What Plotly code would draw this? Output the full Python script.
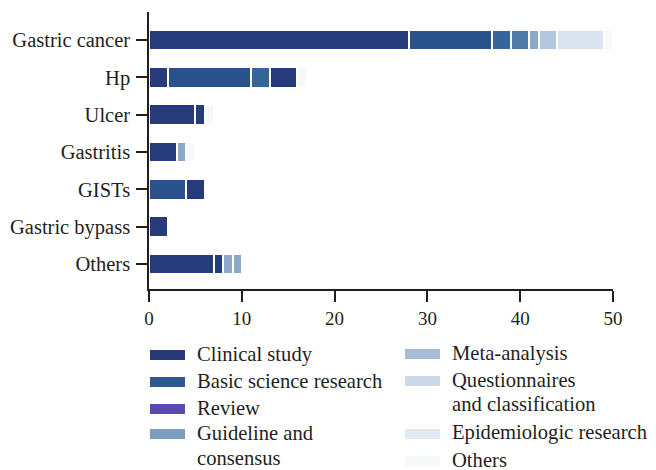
import plotly.graph_objects as go

# ---- data ----
categories = ["Gastric cancer", "Hp", "Ulcer", "Gastritis", "GISTs", "Gastric bypass", "Others"]

# stacked segments of each bar, left to right (number of articles)
seg_gastric_cancer = [28, 9, 2, 2, 1, 2, 5, 1]
seg_hp = [2, 9, 2, 3, 1]
seg_ulcer = [5, 1, 1]
seg_gastritis = [3, 1, 1]
seg_gists = [4, 2]
seg_gastric_bypass = [2]
seg_others = [7, 1, 1, 1]

legend_labels = ["Clinical study", "Basic science research", "Review", "Guideline and<br>consensus",
                 "Meta-analysis", "Questionnaires<br>and classification", "Epidemiologic research", "Others"]

x_ticks = [0, 10, 20, 30, 40, 50]

# ---- styles ----
NAVY = "#263b7a"
BASIC = "#2a528a"
C3 = "#346699"
C4 = "#4e7aa8"
C5 = "#8ba8cb"
C6 = "#b4c5de"
C7 = "#dce3f0"
C8 = "#f6f9f9"

col_gastric_cancer = [NAVY, BASIC, C3, C4, C5, C6, C7, C8]
col_hp = [NAVY, BASIC, C3, NAVY, C8]
col_ulcer = [NAVY, NAVY, C8]
col_gastritis = [NAVY, C5, C8]
col_gists = [BASIC, NAVY]
col_gastric_bypass = [NAVY]
col_others = [NAVY, NAVY, C5, C5]

legend_colors = ["#263a7a", "#2e5a90", "#5b4aad", "#7d9dc0", "#a7bad6", "#cdd9e9", "#e2e9f3", "#f6f9f9"]

segs = [seg_gastric_cancer, seg_hp, seg_ulcer, seg_gastritis, seg_gists, seg_gastric_bypass, seg_others]
cols = [col_gastric_cancer, col_hp, col_ulcer, col_gastritis, col_gists, col_gastric_bypass, col_others]

FONT = "Liberation Serif"
TXT = "#231f20"

fig = go.Figure()
nlev = max(len(s) for s in segs)
for lev in range(nlev):
    xs, cs = [], []
    for s, c in zip(segs, cols):
        if lev < len(s):
            xs.append(s[lev]); cs.append(c[lev])
        else:
            xs.append(None); cs.append("#ffffff")
    fig.add_trace(go.Bar(
        y=categories, x=xs, orientation="h",
        marker=dict(color=cs, line=dict(color="white", width=2)),
        showlegend=False, hoverinfo="x+y",
    ))

# ---- layout geometry (pixels, page has an 8px body margin) ----
OFF = 8
W, H = 656 - OFF, 470 - OFF
L, T = 149 - OFF, 12 - OFF
plot_right, plot_bottom = 613 - OFF, 289 - OFF
R, B = W - plot_right, H - plot_bottom
pw, ph = W - L - R, H - T - B

def px(xp):
    return (xp - OFF - L) / pw

def py(yp):
    return (plot_bottom - (yp - OFF)) / ph

# manual legend in two columns (page pixel positions)
shapes, annotations = [], []
left_items = [(0, [354]), (1, [381]), (2, [408]), (3, [433, 458])]
right_items = [(4, [353]), (5, [380, 404]), (6, [433]), (7, [460])]
for items, sx0, sx1, tx in [(left_items, 150, 185, 195), (right_items, 405, 440, 450)]:
    for idx, ys in items:
        sy = ys[0] + 1
        shapes.append(dict(type="rect", xref="paper", yref="paper",
                           x0=px(sx0), x1=px(sx1), y0=py(sy - 5), y1=py(sy + 5),
                           fillcolor=legend_colors[idx], line=dict(width=0)))
        lines = legend_labels[idx].split("<br>")
        for line, yy in zip(lines, ys):
            annotations.append(dict(text=line, xref="paper", yref="paper",
                                    x=px(tx), y=py(yy), xanchor="left", yanchor="middle",
                                    showarrow=False, font=dict(family=FONT, size=20.6, color=TXT)))

fig.update_layout(
    width=W, height=H,
    margin=dict(l=L, r=R, t=T, b=B, autoexpand=False),
    barmode="stack", bargap=0.44,
    plot_bgcolor="white", paper_bgcolor="white",
    font=dict(family=FONT, size=21, color=TXT),
    shapes=shapes, annotations=annotations,
    xaxis=dict(range=[0, 50], tickvals=x_ticks, ticks="outside", ticklen=11, tickwidth=1.5,
               tickcolor="#231f20", showline=True, linecolor="#231f20", linewidth=1.5,
               showgrid=False, zeroline=False, automargin=False,
               tickfont=dict(family=FONT, size=19, color=TXT)),
    yaxis=dict(range=[6.67, -0.75], ticks="outside", ticklen=11, tickwidth=1.5,
               tickcolor="#231f20", showline=True, linecolor="#231f20", linewidth=1.5,
               showgrid=False, zeroline=False, ticklabelstandoff=2, automargin=False,
               tickfont=dict(family=FONT, size=20.5, color=TXT)),
)

fig.write_html("out.html")
